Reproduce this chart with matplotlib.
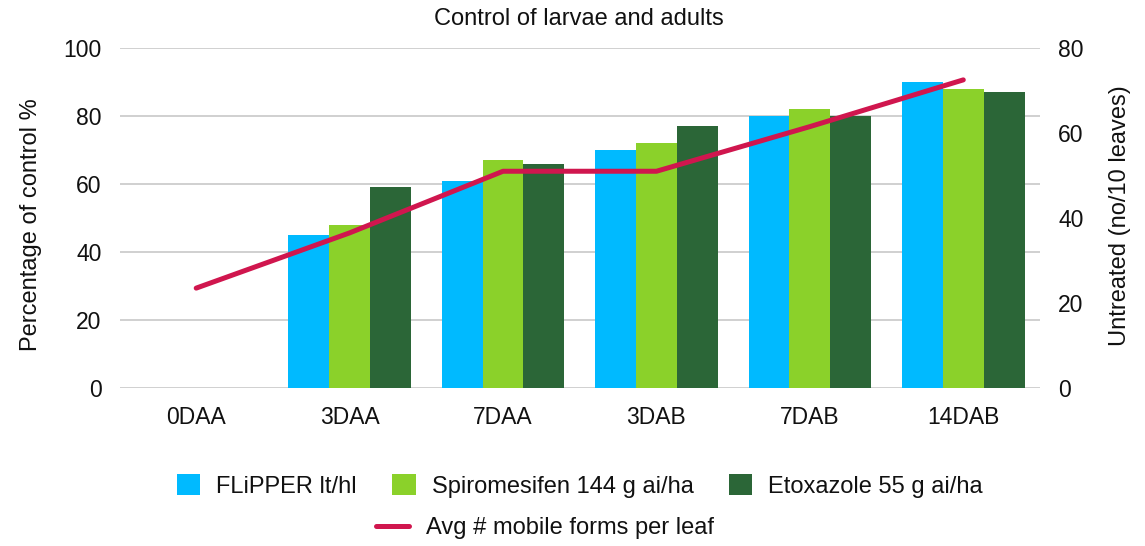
import numpy as np
import matplotlib
matplotlib.use("Agg")
import matplotlib.pyplot as plt

categories = ["0DAA", "3DAA", "7DAA", "3DAB", "7DAB", "14DAB"]
flipper = [np.nan, 45, 61, 70, 80, 90]
spiromesifen = [np.nan, 48, 67, 72, 82, 88]
etoxazole = [np.nan, 59, 66, 77, 80, 87]
mobile_forms = [23.5, 36.5, 51, 51, 61.5, 72.5]

series_names = ["FLiPPER lt/hl", "Spiromesifen 144 g ai/ha", "Etoxazole 55 g ai/ha"]
line_name = "Avg # mobile forms per leaf"
colors = ["#00BAFF", "#8BD12A", "#2B6637"]
line_color = "#D0164E"

plt.rcParams["font.family"] = ["Liberation Sans", "DejaVu Sans"]
FS = 17

W, H = 1145, 546
fig = plt.figure(figsize=(W / 100, H / 100), dpi=100)
ax = fig.add_axes([119.5 / W, 1 - 388 / H, 920.5 / W, 340 / H])
ax2 = ax.twinx()

x = np.arange(len(categories))
w = 0.8 / 3
bars = []
for i, (vals, c, name) in enumerate(zip([flipper, spiromesifen, etoxazole], colors, series_names)):
    b = ax.bar(x + (i - 1) * w, vals, w, color=c, label=name, zorder=2)
    bars.append(b)

ln, = ax2.plot(x, mobile_forms, color=line_color, lw=3.6, solid_capstyle="round",
               solid_joinstyle="round", label=line_name, zorder=3)

ax.set_xlim(-0.5, len(categories) - 0.5)
ax.set_ylim(0, 100)
ax.set_yticks(range(0, 101, 20))
ax2.set_ylim(0, 80)
ax2.set_yticks(range(0, 81, 20))

ax.set_xticks(x)
ax.set_xticklabels(categories)
ax.grid(axis="y", color="#C8C8C8", lw=1.2, zorder=0)
ax.set_axisbelow(True)

for a in (ax, ax2):
    for s in a.spines.values():
        s.set_visible(False)
    a.tick_params(length=0, labelsize=16.5, colors="#111111")
ax.tick_params(axis="x", pad=13)
ax.tick_params(axis="y", pad=13)
ax2.tick_params(axis="y", pad=13)

fig.text(31 / W, 1 - 225 / H, "Percentage of control %", rotation=90,
         ha="center", va="center", fontsize=FS, color="#111111")
fig.text(1120 / W, 1 - 216 / H, "Untreated (no/10 leaves)", rotation=90,
         ha="center", va="center", fontsize=FS, color="#111111")
fig.text(579 / W, 1 - 19 / H, "Control of larvae and adults", ha="center", va="center",
         fontsize=FS, color="#111111")

leg1 = fig.legend(handles=bars, labels=series_names, loc="center", bbox_to_anchor=(580 / W, 1 - 486 / H),
                  ncol=3, frameon=False, fontsize=FS, handlelength=0.98, handleheight=0.98,
                  columnspacing=1.5, handletextpad=0.68, borderpad=0, borderaxespad=0)
leg2 = fig.legend(handles=[ln], labels=[line_name], loc="center", bbox_to_anchor=(545 / W, 1 - 528 / H),
                  frameon=False, fontsize=FS, handlelength=1.4, handletextpad=0.75,
                  borderpad=0, borderaxespad=0)
for leg in (leg1, leg2):
    for t in leg.get_texts():
        t.set_color("#111111")

fig.savefig("out.png", dpi=100)
